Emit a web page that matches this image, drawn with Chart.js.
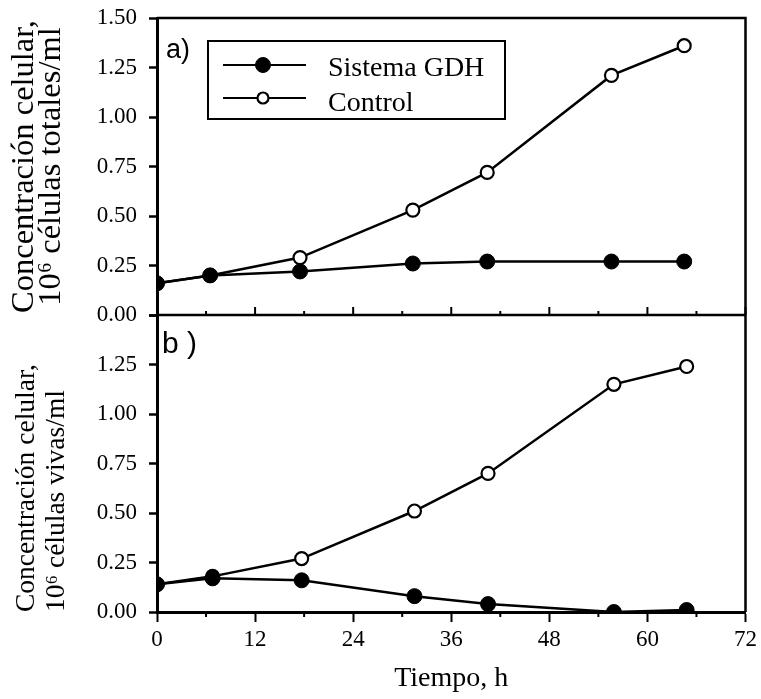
<!DOCTYPE html>
<html><head><meta charset="utf-8">
<script src="https://cdn.jsdelivr.net/npm/chart.js@4.4.0/dist/chart.umd.min.js"></script>
<style>html,body{margin:0;padding:0;background:#fff;}#wrap{width:761px;height:699px;position:relative;}</style>
</head><body><div id="wrap"><canvas id="c" width="761" height="699"></canvas></div>
<script>
// ---- data ----
const timesTotal = [0, 6.5, 17.5, 31.3, 40.4, 55.6, 64.5];
const gdhTotal = [0.16, 0.20, 0.22, 0.26, 0.27, 0.27, 0.27];
const controlTotal = [0.16, 0.20, 0.29, 0.53, 0.72, 1.21, 1.36];
const timesViable = [0, 6.8, 17.7, 31.5, 40.5, 55.9, 64.8];
const gdhViable = [0.14, 0.17, 0.16, 0.08, 0.04, 0.00, 0.01];
const controlViable = [0.14, 0.18, 0.27, 0.51, 0.70, 1.15, 1.24];
const xTickLabels = [0, 12, 24, 36, 48, 60, 72];
const yTickLabels = [0, 0.25, 0.5, 0.75, 1.0, 1.25, 1.5];
const seriesNames = ['Sistema GDH', 'Control'];
const panelNames = ['a)', 'b )'];
const yTitleTotal = ['Concentración celular,', '10⁶ células totales/ml'];
const yTitleViable = ['Concentración celular,', '10⁶ células vivas/ml'];
const xTitle = 'Tiempo, h';

const SERIF = 'Liberation Serif';
Chart.defaults.font.family = SERIF;
Chart.defaults.color = '#000';

const pts = (xs, ys) => xs.map((x, i) => ({x: x, y: ys[i]}));
const filledStyle = {borderColor: '#000', backgroundColor: '#000', borderWidth: 2.5,
  pointRadius: 7.5, pointBackgroundColor: '#000', pointBorderColor: '#000', pointBorderWidth: 1, tension: 0};
const openStyle = {borderColor: '#000', backgroundColor: '#fff', borderWidth: 2.5,
  pointRadius: 6.5, pointBackgroundColor: '#fff', pointBorderColor: '#000', pointBorderWidth: 2.2, tension: 0};

const datasets = [
  Object.assign({label: seriesNames[0], data: pts(timesTotal, gdhTotal), yAxisID: 'yTop'}, filledStyle),
  Object.assign({label: seriesNames[0], data: pts(timesViable, gdhViable), yAxisID: 'yBot'}, filledStyle),
  Object.assign({label: seriesNames[1], data: pts(timesTotal, controlTotal), yAxisID: 'yTop'}, openStyle),
  Object.assign({label: seriesNames[1], data: pts(timesViable, controlViable), yAxisID: 'yBot'}, openStyle)
];

function yScale(titleLines, titleSize, lineH, align, padTop, hideTop) {
  return {
    type: 'linear', position: 'left', stack: 'panels', stackWeight: 1,
    min: yTickLabels[0], max: yTickLabels[yTickLabels.length - 1],
    afterBuildTicks: s => { s.ticks = yTickLabels.map(v => ({value: v})); },
    afterFit: s => { s.width = 157; s.paddingTop = 0; s.paddingBottom = 0; },
    ticks: {font: {size: 23}, padding: 12, color: '#000', autoSkip: false,
      callback: v => (hideTop && v === yTickLabels[yTickLabels.length - 1]) ? '' : v.toFixed(2)},
    grid: {drawOnChartArea: false, drawTicks: true, tickLength: 8, tickColor: '#000', tickWidth: 2.5},
    border: {display: true, color: '#000', width: 3},
    title: {display: true, text: titleLines, align: align, color: '#000',
      font: {size: titleSize, lineHeight: lineH}, padding: {top: padTop, bottom: 0}}
  };
}

const framePlugin = {
  id: 'frame',
  beforeDatasetsDraw(chart) {
    const {ctx, chartArea: a, scales} = chart;
    const xs = scales.x, yT = scales.yTop;
    ctx.save();
    ctx.strokeStyle = '#000';
    ctx.lineWidth = 2.5;
    ctx.beginPath();
    ctx.moveTo(a.left, a.top); ctx.lineTo(a.right, a.top); ctx.lineTo(a.right, a.bottom);
    ctx.moveTo(a.left, yT.bottom); ctx.lineTo(a.right, yT.bottom);
    ctx.stroke();
    ctx.beginPath();
    ctx.lineWidth = 2;
    // tick marks: minor below the bottom axis, inward ticks on panel a's bottom edge
    for (let i = 0; i < xTickLabels.length; i++) {
      const px = xs.getPixelForValue(xTickLabels[i]);
      ctx.moveTo(px, yT.bottom); ctx.lineTo(px, yT.bottom - 8);
      if (i < xTickLabels.length - 1) {
        const mx = xs.getPixelForValue((xTickLabels[i] + xTickLabels[i + 1]) / 2);
        ctx.moveTo(mx, a.bottom); ctx.lineTo(mx, a.bottom + 5);
        ctx.moveTo(mx, yT.bottom); ctx.lineTo(mx, yT.bottom - 4);
      }
    }
    ctx.stroke();
    ctx.restore();
  },
  afterDraw(chart) {
    const {ctx, chartArea: a, scales} = chart;
    const yB = scales.yBot;
    ctx.save();
    // panel labels
    ctx.fillStyle = '#000';
    ctx.textAlign = 'left';
    ctx.textBaseline = 'alphabetic';
    ctx.font = '27px "Liberation Sans"';
    ctx.fillText(panelNames[0], a.left + 9, a.top + 40);
    ctx.font = '30px "Liberation Sans"';
    ctx.fillText(panelNames[1], a.left + 5, yB.top + 38);
    // legend
    const lx = a.left + 51, ly = a.top + 23, lw = 297, lh = 78;
    ctx.strokeStyle = '#000';
    ctx.lineWidth = 2;
    ctx.strokeRect(lx, ly, lw, lh);
    const rows = [ly + 24, ly + 57];
    const legendSets = [chart.data.datasets[0], chart.data.datasets[2]];
    const radii = [7.5, 5.5];
    legendSets.forEach((ds, i) => {
      const ry = rows[i];
      ctx.beginPath();
      ctx.lineWidth = 2;
      ctx.strokeStyle = ds.borderColor;
      ctx.moveTo(lx + 15, ry); ctx.lineTo(lx + 98, ry);
      ctx.stroke();
      ctx.beginPath();
      ctx.arc(lx + 55, ry, radii[i], 0, Math.PI * 2);
      ctx.fillStyle = ds.pointBackgroundColor;
      ctx.fill();
      ctx.lineWidth = ds.pointBorderWidth;
      ctx.strokeStyle = ds.pointBorderColor;
      ctx.stroke();
      ctx.fillStyle = '#000';
      ctx.font = '28px "' + SERIF + '"';
      ctx.textBaseline = 'alphabetic';
      ctx.fillText(ds.label, lx + 120, ry + 11 + i * 2);
    });
    ctx.restore();
  }
};

new Chart(document.getElementById('c'), {
  type: 'line',
  data: {datasets: datasets},
  options: {
    responsive: false, animation: false, devicePixelRatio: 1,
    layout: {padding: {left: 0, right: 15, top: 18, bottom: 0}},
    plugins: {legend: {display: false}, tooltip: {enabled: false}},
    scales: {
      x: {
        type: 'linear', position: 'bottom',
        min: xTickLabels[0], max: xTickLabels[xTickLabels.length - 1],
        afterBuildTicks: s => { s.ticks = xTickLabels.map(v => ({value: v})); },
        afterFit: s => { s.height = 87; },
        ticks: {font: {size: 23}, padding: 4, color: '#000', maxRotation: 0, autoSkip: false},
        grid: {drawOnChartArea: false, drawTicks: true, tickLength: 10, tickColor: '#000', tickWidth: 2},
        border: {display: true, color: '#000', width: 3},
        title: {display: true, text: xTitle, color: '#000', font: {size: 28}, padding: {top: 0, bottom: 4}}
      },
      yBot: yScale(yTitleViable, 27.5, 1.09, 'start', 12, true),
      yTop: yScale(yTitleTotal, 32.5, 0.86, 'center', 10, false)
    }
  },
  plugins: [framePlugin]
});
</script></body></html>
